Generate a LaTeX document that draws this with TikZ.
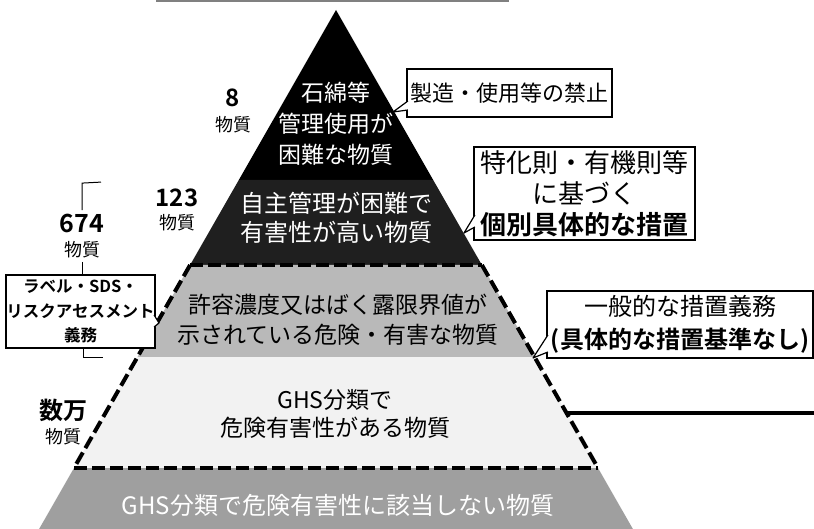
\documentclass[tikz,border=0pt]{standalone}
\usepackage{fontspec}
\setmainfont[BoldFont={Noto Sans CJK JP Bold}]{Noto Sans CJK JP}

\begin{document}
\begin{tikzpicture}[x=1pt, y=-1pt,
        lay/.style={align=center, inner sep=0pt},
        note/.style={draw, fill=white, line width=1.2pt, align=center, inner sep=0pt},
        tail/.style={draw, fill=white, line width=1.2pt, line join=round},
        cut/.style={line width=4pt, dash pattern=on 13pt off 5pt},
        num/.style={font=\fontsize{24}{26}\selectfont\bfseries},
        unit/.style={font=\fontsize{18}{20}\selectfont}]
        \useasboundingbox (0,0) rectangle (814,529);
        \draw[gray, line width=1.5pt] (156,1) -- (509,1);

        % layers of the pyramid
        \fill[black] (336,10) -- (433.2,180) -- (238.8,180) -- cycle;
        \fill[black!88] (238.8,180) -- (433.2,180) -- (481.9,265) -- (190.1,265) -- cycle;
        \fill[gray!55] (190.1,265) -- (481.9,265) -- (534.5,357) -- (137.5,357) -- cycle;
        \fill[gray!10] (137.5,357) -- (534.5,357) -- (598,468) -- (74,468) -- cycle;
        \fill[gray!75] (74,468) -- (598,468) -- (632.9,529) -- (39.1,529) -- cycle;

        \draw[cut] (190.1,265) -- (481.9,265);
        \draw[cut] (74,468) -- (598,468);
        \draw[cut] (190.1,265) -- (74,468);
        \draw[cut] (481.9,265) -- (598,468);

        \node[lay, text=white, font=\fontsize{23}{31}\selectfont] (asb) at (336,124) {石綿等\\管理使用が\\困難な物質};
        \node[lay, text=white, font=\fontsize{24}{29}\selectfont] (self) at (336,218) {自主管理が困難で\\有害性が高い物質};
        \node[lay, font=\fontsize{23}{30}\selectfont] (oel) at (338,320) {許容濃度又はばく露限界値が\\示されている危険・有害な物質};
        \node[lay, font=\fontsize{23}{28}\selectfont] (ghs) at (335,414) {GHS分類で\\危険有害性がある物質};
        \node[lay, text=white, font=\fontsize{24}{28}\selectfont] (nonghs) at (338,505) {GHS分類で危険有害性に該当しない物質};

        % counts on the left
        \node[num] (n8) at (233,98) {8};
        \node[unit] (u8) at (233,125) {物質};
        \node[num] (n123) at (177,198) {123};
        \node[unit] (u123) at (177,223) {物質};
        \node[num, font=\fontsize{25}{27}\selectfont\bfseries] (n674) at (82,223) {674};
        \node[unit] (u674) at (82,250) {物質};
        \node[num] (nman) at (63,410) {数万};
        \node[unit] (uman) at (63,437) {物質};

        \node[note, minimum width=149, minimum height=73, font=\fontsize{16.5}{24.5}\selectfont\bfseries] (lab) at (80.5,311.5) {ラベル・SDS・\\リスクアセスメント\\義務};
        \draw[line width=1pt] (n674.north) -- ++(0,-27) -- ++(19,-1);
        \draw[line width=1pt] (u674.south) -- (u674.south |- lab.north);
        \draw[line width=1pt] ([xshift=2.5]lab.south) -- ++(0,9) -- ++(20,0);
        \coordinate (labTip) at (159,323);
        \filldraw[tail] ([shift={(-1.5,3.5)}]lab.east) -- (labTip) -- ([shift={(-1.5,15.5)}]lab.east);

        % notes on the right
        \node[note, minimum width=205, minimum height=48, font=\fontsize{22}{26}\selectfont] (ban) at (509.5,93) {製造・使用等の禁止};
        \coordinate (banTip) at (393,112);
        \filldraw[tail] ([shift={(1.5,8)}]ban.west) -- (banTip) -- ([shift={(1.5,17)}]ban.west);

        \node[note, minimum width=221, minimum height=93, font=\fontsize{26}{31}\selectfont] (rule) at (584.5,193.5) {特化則・有機則等\\に基づく\\\textbf{個別具体的な措置}};
        \coordinate (ruleTip) at (464,233);
        \filldraw[tail] ([shift={(1.5,21.5)}]rule.west) -- (ruleTip) -- ([shift={(1.5,33.5)}]rule.west);

        \node[note, minimum width=266, minimum height=67, font=\fontsize{24}{33}\selectfont] (gen) at (680,324.5) {一般的な措置義務\\\textbf{(具体的な措置基準なし)}};
        \coordinate (genTip) at (533,358);
        \filldraw[tail] ([shift={(1.5,10.5)}]gen.west) -- (genTip) -- ([shift={(1.5,27.5)}]gen.west);

        \coordinate (gLine) at (567,413);
        \draw[line width=4pt] (gLine) -- (814,413);
    \end{tikzpicture}
\end{document}
